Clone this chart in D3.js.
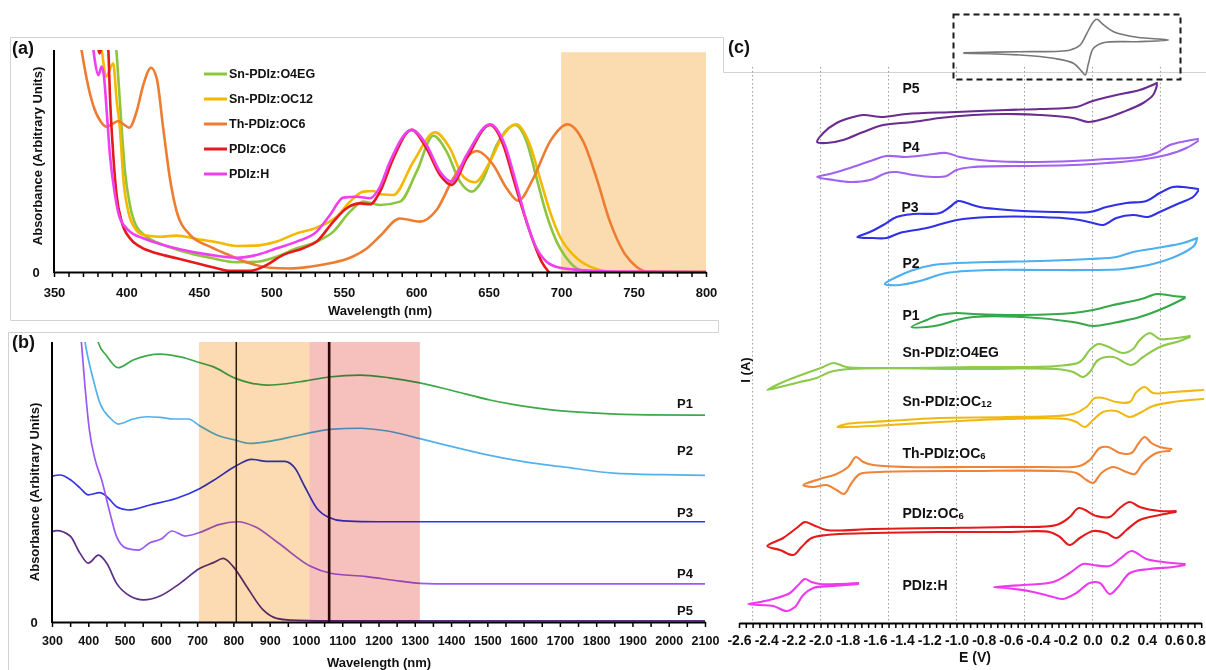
<!DOCTYPE html>
<html>
<head>
<meta charset="utf-8">
<script src="https://cdn.jsdelivr.net/npm/d3@7"></script>
<style>
  html, body { margin: 0; padding: 0; background: #fff; }
  svg { display: block; font-family: "Liberation Sans", Arial, Helvetica, sans-serif; }
</style>
</head>
<body>
<svg id="fig" width="1206" height="670"></svg>
<script>
// ===================== (a) solution absorbance, small molecules =====================
const aTickLabels = [350, 400, 450, 500, 550, 600, 650, 700, 750, 800];
const aBand = [700, 800];
const aNames = ["Sn-PDIz:O4EG", "Sn-PDIz:OC12", "Th-PDIz:OC6", "PDIz:OC6", "PDIz:H"];
const aColors = ["#8cc63f", "#f4b800", "#ed7d31", "#e6191c", "#f03ff0"];

const absSnO4EG = [[388,1.15],[393,1.0],[394.4,0.872],[396.7,0.647],[399,0.452],[402.4,0.302],[407,0.204],[414,0.159],[425.4,0.122],[439.2,0.092],[457.7,0.064],[476,0.044],[489.9,0.046],[503.7,0.069],[517.5,0.107],[531.3,0.137],[542.8,0.182],[554.3,0.272],[563.5,0.317],[575,0.302],[588.8,0.317],[600.3,0.452],[611.8,0.614],[621,0.542],[630.2,0.407],[638.3,0.362],[646.3,0.422],[655.5,0.572],[668.1,0.662],[676.2,0.587],[683.1,0.422],[690,0.257],[696.9,0.137],[703.8,0.062],[713,0.009],[722,0.0],[800,0.0]];
const absSnOC12 = [[380,1.08],[382.9,1.0],[385.9,0.88],[390.9,0.94],[393.2,0.775],[395.5,0.647],[397.8,0.422],[401.3,0.272],[405.9,0.197],[411.6,0.167],[423.2,0.159],[434.7,0.164],[448.5,0.149],[462.3,0.134],[476,0.117],[489.9,0.119],[503.7,0.137],[517.5,0.174],[531.3,0.2],[545,0.249],[554.3,0.317],[563.5,0.362],[570.4,0.365],[575,0.350],[584.2,0.347],[598,0.497],[613,0.629],[623.3,0.557],[632.5,0.429],[640.6,0.404],[650.9,0.497],[660.1,0.617],[668.8,0.665],[678.5,0.572],[685.4,0.422],[692.3,0.272],[699.2,0.159],[708.4,0.077],[720,0.024],[736,0.001],[800,0.0]];
const absThOC6 = [[365,1.15],[369,1.0],[372.5,0.872],[377,0.752],[382,0.68],[386.4,0.654],[391,0.67],[394.4,0.68],[397.8,0.666],[402,0.65],[407,0.722],[411.6,0.842],[417,0.92],[420.9,0.872],[425.4,0.647],[430,0.422],[434.7,0.272],[443.9,0.167],[457.7,0.114],[471.5,0.074],[485.3,0.039],[499,0.019],[512.9,0.016],[526.7,0.024],[540.5,0.039],[554.3,0.064],[565.8,0.106],[575,0.162],[588.8,0.241],[602.6,0.227],[614,0.279],[625.6,0.422],[641.7,0.545],[653.2,0.482],[662.4,0.377],[670.4,0.321],[680.8,0.422],[692.3,0.587],[704.5,0.665],[715.3,0.587],[724.5,0.422],[733.7,0.227],[743,0.092],[752,0.024],[759,0.002],[770,0.0],[800,0.0]];
const absPDIzOC6 = [[378,1.1],[380,1.02],[381.5,0.985],[383,1.02],[385.5,1.12],[387.5,1.0],[388.6,0.797],[390.9,0.527],[393.2,0.347],[396.7,0.227],[402.4,0.152],[409.4,0.114],[420.9,0.084],[434.7,0.062],[448.5,0.039],[462.3,0.017],[471.5,0.005],[485.3,0.005],[494.5,0.024],[508.3,0.077],[522,0.107],[531.3,0.137],[542.8,0.227],[552,0.287],[561.2,0.309],[568.1,0.305],[575,0.362],[584.2,0.512],[596.8,0.64],[607.1,0.557],[616.4,0.437],[624.4,0.392],[634.8,0.512],[650.9,0.662],[660.1,0.572],[667,0.422],[673.9,0.272],[680.8,0.137],[686.6,0.046],[691.5,0.0]];
const absPDIzH = [[376,1.05],[377.2,1.0],[378.3,0.947],[380.6,0.887],[382.9,0.925],[384.5,0.88],[386.4,0.722],[388.6,0.527],[392.1,0.347],[395.5,0.242],[402.4,0.182],[411.6,0.152],[425.4,0.122],[439.2,0.099],[457.7,0.077],[476,0.064],[489.9,0.077],[503.7,0.107],[517.5,0.137],[531.3,0.182],[540.5,0.257],[549.7,0.335],[558.9,0.339],[568.1,0.332],[575,0.384],[581.9,0.497],[596.8,0.64],[607.1,0.572],[616.4,0.452],[624.4,0.407],[634.8,0.527],[650.9,0.665],[661.2,0.572],[669.3,0.392],[676.2,0.227],[683.1,0.107],[690,0.046],[699.2,0.019],[713,0.009],[736,0.002],[800,0.0]];
const aValues = [absSnO4EG, absSnOC12, absThOC6, absPDIzOC6, absPDIzH];

// ===================== (b) thin-film absorbance, polymers =====================
const bTickLabels = [300,400,500,600,700,800,900,1000,1100,1200,1300,1400,1500,1600,1700,1800,1900,2000,2100];
const bBands = [[705, 1010], [1010, 1314]];
const bBandColors = ["#fcdbb3", "#f6c1bd"];
const bLaserLines = [808, 1064];
const bNames = ["P1", "P2", "P3", "P4", "P5"];
const bColors = ["#3fa84a", "#52b2ec", "#3434e4", "#9d58f2", "#5e2d86"];
const bLabelAt = [0.782, 0.614, 0.393, 0.175, 0.043];

const absP1 = [[400,1.2],[427,1.0],[451,0.95],[482,0.908],[524,0.936],[598,0.957],[657,0.946],[708,0.926],[744,0.912],[804,0.871],[846,0.854],[892,0.846],[984,0.858],[1063,0.875],[1149,0.882],[1230,0.872],[1314,0.854],[1405,0.826],[1507,0.793],[1599,0.771],[1682,0.757],[1802,0.746],[1940,0.740],[2100,0.739]];
const absP2 = [[385,1.05],[391,1.0],[414,0.864],[432,0.782],[460,0.729],[483,0.707],[524,0.725],[561,0.733],[598,0.731],[635,0.725],[676,0.725],[708,0.700],[754,0.668],[804,0.650],[846,0.638],[892,0.644],[984,0.668],[1066,0.688],[1149,0.692],[1220,0.683],[1314,0.655],[1388,0.631],[1507,0.595],[1608,0.571],[1709,0.554],[1847,0.532],[1984,0.526],[2100,0.524]];
const absP3 = [[300,0.521],[322,0.525],[354,0.505],[377,0.479],[400,0.454],[432,0.462],[451,0.448],[478,0.412],[510,0.400],[570,0.418],[644,0.442],[708,0.477],[754,0.513],[804,0.555],[850,0.581],[892,0.574],[942,0.574],[970,0.549],[997,0.483],[1030,0.406],[1062,0.374],[1103,0.361],[1200,0.358],[2100,0.358]];
const absP4 = [[375,1.1],[378,1.05],[391,0.840],[403,0.686],[419,0.579],[437,0.507],[460,0.388],[478,0.305],[506,0.263],[538,0.257],[570,0.283],[601,0.296],[631,0.325],[667,0.307],[708,0.320],[760,0.348],[811,0.358],[860,0.34],[924,0.282],[1014,0.198],[1068,0.174],[1167,0.162],[1259,0.146],[1314,0.138],[1400,0.136],[2100,0.136]];
const absP5 = [[300,0.3225],[313,0.326],[350,0.307],[377,0.246],[400,0.210],[428,0.239],[451,0.210],[478,0.138],[515,0.093],[552,0.079],[598,0.093],[653,0.138],[708,0.192],[745,0.212],[772,0.227],[800,0.197],[837,0.126],[882,0.043],[919,0.013],[956,0.007],[1100,0.004],[2100,0.004]];
const bValues = [absP1, absP2, absP3, absP4, absP5];

// ===================== (c) cyclic voltammograms =====================
const cTickLabels = [-2.6,-2.4,-2.2,-2.0,-1.8,-1.6,-1.4,-1.2,-1.0,-0.8,-0.6,-0.4,-0.2,0.0,0.2,0.4,0.6,0.8];
const cGrid = [-2.5, -2.0, -1.5, -1.0, -0.5, 0.0, 0.5];

const cvP5 = [[0.475,54.0],[0.348,53.3],[0.176,52.8],[0.054,52.4],[-0.02,52.1],[-0.118,51.6],[-0.387,51.4],[-0.632,51.3],[-1.0,51.1],[-1.368,50.9],[-1.539,50.6],[-1.686,50.8],[-1.76,50.6],[-1.882,50.0],[-1.98,49.0],[-2.025,48.1],[-1.956,48.0],[-1.833,48.3],[-1.686,49.1],[-1.539,49.8],[-1.319,50.1],[-1.123,50.5],[-0.877,50.8],[-0.632,50.9],[-0.387,50.8],[-0.142,50.5],[-0.032,50.1],[0.078,50.4],[0.225,51.1],[0.373,52.0],[0.446,52.8],[0.475,53.8]];
const cvP4 = [[0.777,48.4],[0.691,48.2],[0.569,47.8],[0.471,47.0],[0.348,46.6],[0.103,46.4],[-0.142,46.2],[-0.51,46.1],[-0.828,46.3],[-0.975,46.6],[-1.074,47.0],[-1.22,46.8],[-1.368,46.6],[-1.515,46.7],[-1.613,46.3],[-1.784,45.5],[-1.931,44.9],[-2.025,44.6],[-1.907,44.3],[-1.784,44.1],[-1.637,44.3],[-1.515,45.0],[-1.441,45.1],[-1.319,44.8],[-1.172,44.6],[-1.074,44.7],[-1.0,45.3],[-0.877,45.6],[-0.51,45.7],[-0.142,45.8],[0.103,46.0],[0.348,46.3],[0.544,46.8],[0.691,47.5],[0.777,48.2]];
const cvP3 = [[0.777,43.4],[0.667,43.6],[0.593,43.6],[0.495,43.0],[0.397,42.2],[0.25,42.0],[0.103,41.6],[-0.02,41.1],[-0.265,41.1],[-0.51,41.2],[-0.828,41.6],[-0.926,42.0],[-0.988,42.2],[-1.049,41.6],[-1.123,41.0],[-1.319,40.9],[-1.441,40.6],[-1.539,39.8],[-1.637,39.1],[-1.73,38.6],[-1.613,38.5],[-1.515,38.5],[-1.417,39.0],[-1.22,39.5],[-0.998,40.3],[-0.755,40.6],[-0.387,40.6],[-0.142,40.4],[0.005,40.0],[0.078,39.8],[0.176,40.5],[0.299,40.8],[0.409,40.6],[0.495,41.1],[0.642,42.0],[0.74,42.6],[0.777,43.2]];
const cvP2 = [[0.77,38.5],[0.667,38.0],[0.471,37.5],[0.299,37.1],[0.176,36.6],[-0.02,36.4],[-0.387,36.2],[-0.755,36.1],[-1.0,36.0],[-1.172,35.8],[-1.319,35.3],[-1.441,34.6],[-1.527,33.9],[-1.417,33.8],[-1.27,34.2],[-1.074,35.0],[-0.755,35.3],[-0.387,35.3],[-0.02,35.3],[0.225,35.4],[0.471,36.0],[0.667,37.0],[0.752,37.8],[0.77,38.5]];
const cvP1 = [[0.679,32.6],[0.593,32.7],[0.471,32.9],[0.385,32.5],[0.299,32.2],[0.152,31.8],[0.005,31.3],[-0.142,31.0],[-0.51,30.8],[-0.877,30.9],[-1.0,31.0],[-1.123,30.8],[-1.22,30.3],[-1.331,29.6],[-1.22,29.6],[-1.123,29.8],[-1.0,30.3],[-0.877,30.6],[-0.51,30.6],[-0.142,30.1],[0.005,29.7],[0.152,30.0],[0.348,30.6],[0.544,31.6],[0.679,32.5]];
const cvSnO4EG = [[0.716,28.7],[0.618,28.5],[0.495,28.4],[0.422,29.0],[0.348,28.3],[0.299,27.4],[0.225,27.0],[0.103,27.7],[0.042,27.9],[-0.02,27.3],[-0.093,26.1],[-0.265,25.7],[-0.877,25.6],[-1.613,25.5],[-1.809,25.6],[-1.907,26.0],[-1.98,25.6],[-2.103,25.0],[-2.275,24.1],[-2.392,23.3],[-2.299,23.6],[-2.152,24.1],[-2.029,24.5],[-1.931,25.1],[-1.784,25.4],[-0.877,25.4],[-0.265,25.4],[-0.142,25.1],[-0.069,24.6],[-0.02,25.1],[0.042,26.3],[0.152,26.6],[0.287,25.8],[0.373,26.6],[0.495,27.6],[0.642,28.2],[0.716,28.6]];
const cvSnOC12 = [[0.815,23.3],[0.593,23.1],[0.446,23.0],[0.385,23.6],[0.324,23.1],[0.275,22.1],[0.176,22.1],[0.078,22.5],[0.017,22.5],[-0.044,21.6],[-0.142,20.9],[-0.632,20.6],[-1.123,20.5],[-1.613,20.1],[-1.809,19.9],[-1.875,19.6],[-1.809,19.6],[-1.613,19.7],[-1.123,20.1],[-0.632,20.4],[-0.191,20.4],[-0.118,20.1],[-0.056,19.6],[0.005,20.3],[0.078,21.1],[0.176,21.2],[0.275,20.6],[0.348,21.0],[0.446,21.7],[0.593,22.1],[0.815,22.4]];
const cvThOC6 = [[0.581,17.4],[0.495,17.6],[0.434,18.0],[0.385,18.6],[0.336,17.9],[0.287,17.0],[0.201,17.0],[0.115,17.6],[0.054,17.5],[-0.02,16.3],[-0.093,15.7],[-0.387,15.6],[-0.877,15.6],[-1.368,15.6],[-1.613,15.8],[-1.686,16.1],[-1.74,16.6],[-1.797,15.6],[-1.882,14.9],[-2.005,14.4],[-2.127,13.8],[-2.054,13.6],[-1.956,13.8],[-1.882,13.3],[-1.828,12.9],[-1.772,14.0],[-1.711,14.9],[-1.564,15.1],[-0.877,15.2],[-0.265,15.2],[-0.118,15.0],[-0.044,14.3],[0.005,14.0],[0.066,15.0],[0.152,15.6],[0.25,15.1],[0.311,14.9],[0.373,16.0],[0.471,17.0],[0.569,17.2]];
const cvPDIzOC6 = [[0.613,11.2],[0.495,11.2],[0.348,11.6],[0.275,12.1],[0.201,11.5],[0.127,10.6],[0.029,10.7],[-0.1,11.5],[-0.167,10.6],[-0.265,9.8],[-0.632,9.6],[-1.123,9.5],[-1.613,9.4],[-1.956,9.3],[-2.054,9.8],[-2.115,10.1],[-2.176,9.5],[-2.275,8.5],[-2.392,7.7],[-2.299,7.3],[-2.201,6.8],[-2.14,7.6],[-2.066,8.5],[-1.956,8.8],[-1.613,9.0],[-1.123,9.1],[-0.632,9.1],[-0.314,9.1],[-0.24,8.6],[-0.167,7.8],[-0.093,8.5],[0.005,9.2],[0.103,9.0],[0.176,8.5],[0.25,9.3],[0.348,10.3],[0.495,10.8],[0.613,11.1]];
const cvPDIzH_red = [[-1.723,4.0],[-1.858,3.9],[-2.005,3.9],[-2.066,4.1],[-2.115,4.4],[-2.164,3.8],[-2.225,3.0],[-2.348,2.4],[-2.446,2.1],[-2.532,1.9],[-2.446,1.8],[-2.348,1.7],[-2.25,1.2],[-2.189,1.6],[-2.127,2.8],[-2.054,3.5],[-1.907,3.7],[-1.723,3.9]];
const cvPDIzH_ox = [[0.679,5.9],[0.52,6.1],[0.397,6.4],[0.287,7.2],[0.201,6.4],[0.127,5.7],[0.005,5.8],[-0.069,5.9],[-0.167,5.0],[-0.289,4.1],[-0.51,3.8],[-0.725,3.6],[-0.632,3.5],[-0.436,3.1],[-0.289,2.6],[-0.216,2.4],[-0.118,3.0],[-0.02,4.0],[0.054,4.0],[0.127,2.9],[0.189,3.6],[0.275,5.0],[0.422,5.4],[0.593,5.6],[0.679,5.8]];

const cvTraces = [
  { pts: cvP5, color: "#6a2c8e" },
  { pts: cvP4, color: "#a063f0" },
  { pts: cvP3, color: "#3030e6" },
  { pts: cvP2, color: "#4caff0" },
  { pts: cvP1, color: "#35a84a" },
  { pts: cvSnO4EG, color: "#8dc94a" },
  { pts: cvSnOC12, color: "#f0b812" },
  { pts: cvThOC6, color: "#ef8438" },
  { pts: cvPDIzOC6, color: "#e51a1a" },
  { pts: cvPDIzH_red, color: "#ee3aee" },
  { pts: cvPDIzH_ox, color: "#ee3aee" }
];
// sample names, with subscript part separated
const cvLabels = [
  ["P5", ""], ["P4", ""], ["P3", ""], ["P2", ""], ["P1", ""],
  ["Sn-PDIz:O4EG", ""], ["Sn-PDIz:OC", "12"], ["Th-PDIz:OC", "6"], ["PDIz:OC", "6"], ["PDIz:H", ""]
];
const cvLabelAt = [[-1.397,53.5],[-1.397,47.6],[-1.405,41.6],[-1.397,36.0],[-1.397,30.8],[-1.397,27.1],[-1.397,22.2],[-1.397,17.0],[-1.397,11.0],[-1.397,3.8]];

// ferrocene reference, inset
const fcRef = [[-0.498,-0.19],[-0.083,-0.16],[0.283,-0.108],[0.356,0.046],[0.405,0.406],[0.453,0.763],[0.478,0.837],[0.527,0.662],[0.6,0.455],[0.771,0.283],[1.002,0.2],[0.771,0.148],[0.527,0.117],[0.453,-0.055],[0.417,-0.517],[0.393,-0.877],[0.369,-0.775],[0.307,-0.517],[0.161,-0.363],[-0.083,-0.262],[-0.498,-0.209]];

// ------------------------------------------------------------------
const svg = d3.select("#fig");
const bold = sel => sel.attr("font-weight", "bold").attr("fill", "#111");
const fmt1 = d => d.toFixed(1);

// panel frames
const frame = svg.append("g").attr("stroke", "#d2d2d2").attr("stroke-width", 1).attr("fill", "none");
frame.append("path").attr("d", "M10.5,320.5V37.5H723.5V72.5H1206");
frame.append("path").attr("d", "M10.5,320.5H718.5V332.5");
frame.append("path").attr("d", "M8.5,670V332.5H718.5");

// ===================== panel (a) =====================
const xA = d3.scaleLinear().domain([350, 800]).range([54, 706]);
const yA = d3.scaleLinear().domain([0, 1]).range([272, 50]);
const gA = svg.append("g");

svg.append("defs").append("clipPath").attr("id", "clipA")
  .append("rect").attr("x", xA(350)).attr("y", yA(1)).attr("width", xA(800) - xA(350)).attr("height", yA(0) - yA(1) + 2);

gA.append("rect")
  .attr("x", xA(aBand[0])).attr("y", yA(0.99))
  .attr("width", xA(aBand[1]) - xA(aBand[0])).attr("height", yA(0) - yA(0.99))
  .attr("fill", "#fbdcb1");

const lineA = d3.line().x(d => xA(d[0])).y(d => yA(d[1])).curve(d3.curveMonotoneX);
aValues.forEach((vals, i) => {
  gA.append("path").attr("clip-path", "url(#clipA)")
    .attr("d", lineA(vals)).attr("fill", "none")
    .attr("stroke", aColors[i]).attr("stroke-width", 2.6)
    .attr("stroke-linejoin", "round").attr("stroke-linecap", "round");
});

// axes (a)
const axA = gA.append("g").attr("transform", `translate(0,${yA(0)})`)
  .call(d3.axisBottom(xA).tickValues(d3.range(350, 801, 10)).tickSize(5).tickSizeOuter(0).tickPadding(10.5)
    .tickFormat(d => aTickLabels.includes(d) ? d : ""));
axA.select(".domain").attr("stroke", "#000").attr("stroke-width", 2);
axA.selectAll(".tick line").attr("stroke", "#000").attr("stroke-width", 1.5);
axA.selectAll(".tick text").call(bold).attr("font-size", 13).attr("font-family", null);
gA.append("line").attr("x1", xA(350)).attr("x2", xA(350)).attr("y1", yA(1)).attr("y2", yA(0) + 1)
  .attr("stroke", "#000").attr("stroke-width", 2);
gA.append("text").attr("x", xA(350) - 18).attr("y", yA(0)).attr("dy", "0.35em")
  .attr("text-anchor", "middle").attr("font-size", 13).call(bold).text("0");
gA.append("text").attr("x", (xA(350) + xA(800)) / 2).attr("y", 310).attr("dy", "0.35em")
  .attr("text-anchor", "middle").attr("font-size", 13).call(bold).text("Wavelength (nm)");
gA.append("text").attr("transform", `translate(37,156) rotate(-90)`)
  .attr("dy", "0.35em").attr("text-anchor", "middle").attr("font-size", 13).call(bold)
  .text("Absorbance (Arbitrary Units)");
gA.append("text").attr("x", 12).attr("y", 48).attr("dy", "0.35em").attr("font-size", 18).call(bold).text("(a)");

// legend (a)
const leg = gA.append("g");
aNames.forEach((n, i) => {
  const ly = 74 + i * 25;
  leg.append("line").attr("x1", 204).attr("x2", 227).attr("y1", ly).attr("y2", ly)
    .attr("stroke", aColors[i]).attr("stroke-width", 3);
  leg.append("text").attr("x", 229).attr("y", ly).attr("dy", "0.35em")
    .attr("font-size", 12.5).call(bold).text(n);
});

// ===================== panel (b) =====================
const xB = d3.scaleLinear().domain([300, 2100]).range([52, 705]);
const yB = d3.scaleLinear().domain([0, 1]).range([622, 342]);
const gB = svg.append("g");

svg.select("defs").append("clipPath").attr("id", "clipB")
  .append("rect").attr("x", xB(300)).attr("y", yB(1)).attr("width", xB(2100) - xB(300) + 2).attr("height", yB(0) - yB(1) + 2);

const lineB = d3.line().x(d => xB(d[0])).y(d => yB(d[1])).curve(d3.curveMonotoneX);
bValues.forEach((vals, i) => {
  gB.append("path").attr("clip-path", "url(#clipB)")
    .attr("d", lineB(vals)).attr("fill", "none")
    .attr("stroke", bColors[i]).attr("stroke-width", 1.7).attr("stroke-linejoin", "round");
});

// excitation windows, blended over the spectra
bBands.forEach((b, i) => {
  gB.append("rect")
    .attr("x", xB(b[0])).attr("y", yB(1))
    .attr("width", xB(b[1]) - xB(b[0])).attr("height", yB(0) - yB(1))
    .attr("fill", bBandColors[i]).style("mix-blend-mode", "multiply");
});
// laser wavelengths
bLaserLines.forEach((w, i) => {
  gB.append("line").attr("x1", xB(w)).attr("x2", xB(w)).attr("y1", yB(1)).attr("y2", yB(0))
    .attr("stroke", i === 0 ? "#2a1a0e" : "#2b0606").attr("stroke-width", i === 0 ? 1.5 : 2.6);
});

const axB = gB.append("g").attr("transform", `translate(0,${yB(0)})`)
  .call(d3.axisBottom(xB).tickValues(d3.range(300, 2101, 50)).tickSize(5).tickSizeOuter(0).tickPadding(9.5)
    .tickFormat(d => bTickLabels.includes(d) ? d : ""));
axB.select(".domain").attr("stroke", "#000").attr("stroke-width", 2);
axB.selectAll(".tick line").attr("stroke", "#000").attr("stroke-width", 1.5);
axB.selectAll(".tick text").call(bold).attr("font-size", 12.5).attr("font-family", null);
gB.append("line").attr("x1", xB(300)).attr("x2", xB(300)).attr("y1", yB(1)).attr("y2", yB(0) + 1)
  .attr("stroke", "#000").attr("stroke-width", 2);
gB.append("text").attr("x", xB(300) - 18).attr("y", yB(0)).attr("dy", "0.35em")
  .attr("text-anchor", "middle").attr("font-size", 13).call(bold).text("0");
gB.append("text").attr("x", 379).attr("y", 662).attr("dy", "0.35em")
  .attr("text-anchor", "middle").attr("font-size", 13).call(bold).text("Wavelength (nm)");
gB.append("text").attr("transform", `translate(34,492) rotate(-90)`)
  .attr("dy", "0.35em").attr("text-anchor", "middle").attr("font-size", 13).call(bold)
  .text("Absorbance (Arbitrary Units)");
gB.append("text").attr("x", 12).attr("y", 342).attr("dy", "0.35em").attr("font-size", 18).call(bold).text("(b)");

bNames.forEach((n, i) => {
  gB.append("text").attr("x", 677).attr("y", yB(bLabelAt[i])).attr("dy", "0.35em")
    .attr("font-size", 13).call(bold).text(n);
});

// ===================== panel (c) =====================
const xC = d3.scaleLinear().domain([-2.6, 0.8]).range([739, 1201.2]);
const yC = d3.scaleLinear().domain([0, 55.1]).range([623, 72]);
const gC = svg.append("g");

gC.selectAll("line.grid").data(cGrid).join("line").attr("class", "grid")
  .attr("x1", d => xC(d)).attr("x2", d => xC(d)).attr("y1", 67).attr("y2", yC(0))
  .attr("stroke", "#9a9a9a").attr("stroke-width", 1).attr("stroke-dasharray", "1.5,2.5");

// ferrocene inset
const xI = d3.scaleLinear().domain([-0.5, 1.0]).range([963, 1168.3]);
const yI = d3.scaleLinear().domain([-1, 1]).range([79, 14]);
gC.append("rect").attr("x", 953.5).attr("y", 14.5).attr("width", 227).attr("height", 65)
  .attr("fill", "none").attr("stroke", "#1a1a1a").attr("stroke-width", 2).attr("stroke-dasharray", "6,4");
gC.append("path")
  .attr("d", d3.line().x(d => xI(d[0])).y(d => yI(d[1])).curve(d3.curveCatmullRom.alpha(0.5))(fcRef))
  .attr("fill", "none").attr("stroke", "#777").attr("stroke-width", 1.6);

const lineC = d3.line().x(d => xC(d[0])).y(d => yC(d[1])).curve(d3.curveCatmullRom.alpha(0.5));
cvTraces.forEach(t => {
  gC.append("path").attr("d", lineC(t.pts)).attr("fill", "none")
    .attr("stroke", t.color).attr("stroke-width", 2.1)
    .attr("stroke-linejoin", "round").attr("stroke-linecap", "round");
});

cvLabels.forEach((lab, i) => {
  const t = gC.append("text").attr("x", xC(cvLabelAt[i][0])).attr("y", yC(cvLabelAt[i][1]))
    .attr("dy", "0.35em").attr("font-size", 14).call(bold);
  t.append("tspan").text(lab[0]);
  if (lab[1]) t.append("tspan").attr("font-size", 9.5).attr("dy", "0.15em").text(lab[1]);
});

const axC = gC.append("g").attr("transform", `translate(0,${yC(0)})`)
  .call(d3.axisBottom(xC).tickValues(d3.range(-52, 17).map(k => k * 0.05)).tickSize(5).tickSizeOuter(0).tickPadding(7)
    .tickFormat(d => cTickLabels.some(v => Math.abs(v - d) < 1e-6) ? fmt1(d) : ""));
axC.select(".domain").attr("stroke", "#000").attr("stroke-width", 2);
axC.selectAll(".tick line").attr("stroke", "#000").attr("stroke-width", 1.5);
axC.selectAll(".tick text").call(bold).attr("font-size", 14).attr("font-family", null);
// keep the last label inside the page edge
axC.selectAll(".tick text").filter(d => d > 0.75).attr("text-anchor", "end").attr("x", 4);

gC.append("text").attr("x", 975).attr("y", 657).attr("dy", "0.35em")
  .attr("text-anchor", "middle").attr("font-size", 14).call(bold).text("E (V)");
gC.append("text").attr("transform", "translate(745,370) rotate(-90)")
  .attr("dy", "0.35em").attr("text-anchor", "middle").attr("font-size", 13).call(bold).text("I (A)");
gC.append("text").attr("x", 728).attr("y", 47).attr("dy", "0.35em").attr("font-size", 18).call(bold).text("(c)");
</script>
</body>
</html>
